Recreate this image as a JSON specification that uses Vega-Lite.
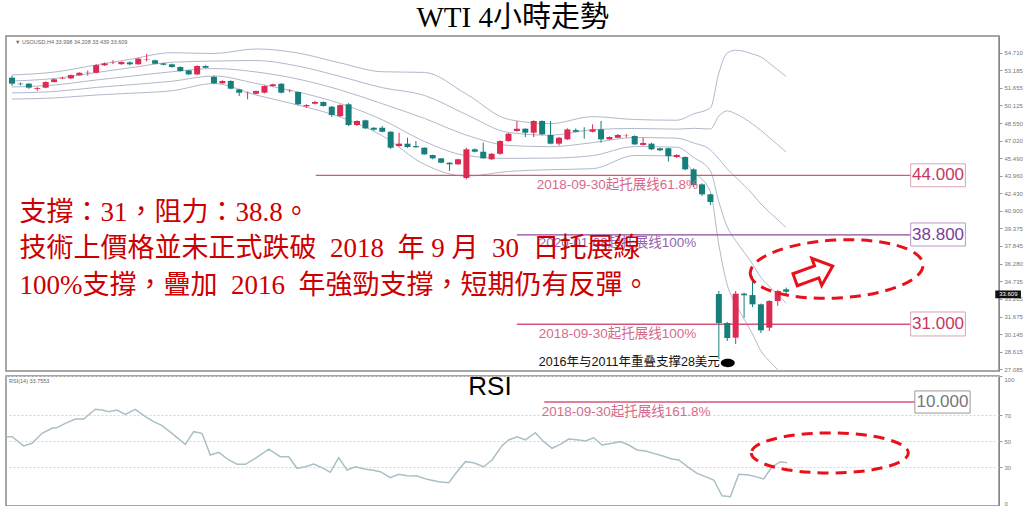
{
"$schema": "https://vega.github.io/schema/vega-lite/v6.json",
"padding": {"left": 2, "top": 4, "right": 0, "bottom": 0},
"title": {"text": "WTI 4小時走勢", "font": "Liberation Serif, Noto Sans CJK TC", "fontSize": 29, "fontWeight": "normal", "color": "#000", "anchor": "middle", "offset": 2},
"config": {
  "view": {"stroke": "#8a8a8a", "strokeWidth": 1.5},
  "axis": {"labelFont": "Liberation Sans", "labelFontSize": 6, "labelColor": "#777", "tickColor": "#999", "tickSize": 3, "domainColor": "#888", "labelPadding": 2, "labelOverlap": false},
  "text": {"font": "Liberation Sans, Noto Sans CJK SC"}
},
"datasets": {
  "candles": [
    {"i":0,"o":52.52,"h":52.7,"l":51.8,"c":52.0},{"i":1,"o":52.0,"h":52.1,"l":51.85,"c":51.95},{"i":2,"o":52.0,"h":52.05,"l":51.55,"c":51.65},{"i":3,"o":51.55,"h":51.7,"l":51.35,"c":51.62},{"i":4,"o":51.65,"h":52.2,"l":51.6,"c":52.14},
    {"i":5,"o":52.14,"h":52.45,"l":52.1,"c":52.38},{"i":6,"o":52.45,"h":52.6,"l":52.4,"c":52.5},{"i":7,"o":52.46,"h":52.8,"l":52.4,"c":52.75},{"i":8,"o":52.73,"h":53.0,"l":52.7,"c":52.95},{"i":9,"o":52.95,"h":53.15,"l":52.7,"c":52.97},
    {"i":10,"o":52.95,"h":53.7,"l":52.9,"c":53.62},{"i":11,"o":53.6,"h":53.85,"l":53.55,"c":53.77},{"i":12,"o":53.8,"h":54.05,"l":53.7,"c":53.82},{"i":13,"o":53.7,"h":53.95,"l":53.65,"c":53.89},{"i":14,"o":53.86,"h":53.95,"l":53.6,"c":53.69},
    {"i":15,"o":53.69,"h":54.25,"l":53.65,"c":54.18},{"i":16,"o":54.06,"h":54.6,"l":53.95,"c":54.1},{"i":17,"o":54.04,"h":54.1,"l":53.7,"c":53.74},{"i":18,"o":53.77,"h":53.8,"l":53.6,"c":53.65},{"i":19,"o":53.69,"h":53.75,"l":53.4,"c":53.45},
    {"i":20,"o":53.45,"h":53.5,"l":53.05,"c":53.1},{"i":21,"o":53.16,"h":53.2,"l":52.75,"c":52.81},{"i":22,"o":52.81,"h":53.6,"l":52.75,"c":53.54},{"i":23,"o":53.54,"h":53.6,"l":53.35,"c":53.39},{"i":24,"o":52.6,"h":52.7,"l":51.95,"c":52.03},
    {"i":25,"o":52.03,"h":52.3,"l":52.0,"c":52.23},{"i":26,"o":52.23,"h":52.3,"l":51.5,"c":51.56},{"i":27,"o":51.5,"h":51.55,"l":50.92,"c":51.21},{"i":28,"o":51.18,"h":51.3,"l":50.63,"c":51.2},{"i":29,"o":51.12,"h":51.4,"l":51.05,"c":51.36},
    {"i":30,"o":51.21,"h":51.85,"l":51.15,"c":51.79},{"i":31,"o":51.79,"h":52.0,"l":51.75,"c":51.94},{"i":32,"o":51.99,"h":52.05,"l":51.15,"c":51.21},{"i":33,"o":51.36,"h":51.5,"l":51.25,"c":51.38},{"i":34,"o":51.27,"h":51.3,"l":50.1,"c":50.2},
    {"i":35,"o":50.02,"h":50.2,"l":49.9,"c":50.13},{"i":36,"o":50.25,"h":50.5,"l":50.2,"c":50.4},{"i":37,"o":50.4,"h":50.45,"l":50.0,"c":50.05},{"i":38,"o":49.99,"h":50.05,"l":49.1,"c":49.26},{"i":39,"o":49.17,"h":50.2,"l":49.1,"c":50.13},
    {"i":40,"o":50.2,"h":50.3,"l":48.3,"c":48.39},{"i":41,"o":48.39,"h":48.8,"l":48.3,"c":48.74},{"i":42,"o":48.8,"h":48.85,"l":48.05,"c":48.1},{"i":43,"o":48.15,"h":48.2,"l":47.9,"c":47.98},{"i":44,"o":48.15,"h":48.3,"l":47.75,"c":47.8},
    {"i":45,"o":47.8,"h":47.85,"l":46.3,"c":46.41},{"i":46,"o":46.56,"h":47.72,"l":46.5,"c":46.76},{"i":47,"o":46.76,"h":47.28,"l":46.4,"c":46.47},{"i":48,"o":46.55,"h":46.99,"l":46.4,"c":46.45},{"i":49,"o":46.41,"h":46.45,"l":45.8,"c":45.83},
    {"i":50,"o":45.77,"h":45.8,"l":45.4,"c":45.48},{"i":51,"o":45.48,"h":45.5,"l":45.05,"c":45.1},{"i":52,"o":45.1,"h":45.15,"l":44.38,"c":44.96},{"i":53,"o":44.96,"h":45.45,"l":44.9,"c":45.4},{"i":54,"o":43.77,"h":46.4,"l":43.65,"c":46.27},
    {"i":55,"o":46.27,"h":46.35,"l":46.0,"c":46.06},{"i":56,"o":46.06,"h":46.85,"l":45.45,"c":45.48},{"i":57,"o":45.4,"h":45.95,"l":45.35,"c":45.88},{"i":58,"o":45.88,"h":47.05,"l":45.8,"c":46.99},{"i":59,"o":46.99,"h":47.7,"l":46.95,"c":47.63},
    {"i":60,"o":47.87,"h":48.74,"l":47.8,"c":48.07},{"i":61,"o":48.07,"h":48.1,"l":47.34,"c":47.72},{"i":62,"o":47.72,"h":48.8,"l":47.34,"c":48.74},{"i":63,"o":48.74,"h":48.8,"l":47.5,"c":47.58},{"i":64,"o":47.52,"h":48.74,"l":46.7,"c":46.76},
    {"i":65,"o":46.76,"h":47.35,"l":46.6,"c":47.28},{"i":66,"o":47.14,"h":48.1,"l":47.1,"c":48.01},{"i":67,"o":47.95,"h":48.1,"l":47.75,"c":47.8},{"i":68,"o":47.87,"h":48.2,"l":47.2,"c":47.86},{"i":69,"o":47.8,"h":48.45,"l":47.75,"c":48.01},
    {"i":70,"o":48.01,"h":48.74,"l":46.85,"c":47.14},{"i":71,"o":47.14,"h":47.4,"l":47.1,"c":47.34},{"i":72,"o":47.28,"h":47.6,"l":47.25,"c":47.52},{"i":73,"o":47.43,"h":47.6,"l":47.3,"c":47.45},{"i":74,"o":47.43,"h":47.5,"l":46.65,"c":46.7},
    {"i":75,"o":46.65,"h":47.28,"l":46.6,"c":46.82},{"i":76,"o":46.76,"h":46.85,"l":46.2,"c":46.27},{"i":77,"o":46.36,"h":46.4,"l":46.1,"c":46.18},{"i":78,"o":46.36,"h":46.4,"l":45.2,"c":45.68},{"i":79,"o":45.6,"h":45.85,"l":45.5,"c":45.77},
    {"i":80,"o":45.6,"h":45.65,"l":44.45,"c":44.52},{"i":81,"o":44.52,"h":44.6,"l":43.0,"c":43.15},{"i":82,"o":43.21,"h":43.3,"l":42.2,"c":42.34},{"i":83,"o":42.34,"h":42.4,"l":41.4,"c":41.67},{"i":84,"o":33.64,"h":33.9,"l":27.97,"c":31.11},
    {"i":85,"o":31.11,"h":31.2,"l":29.54,"c":29.8},{"i":86,"o":29.83,"h":33.9,"l":29.28,"c":33.67},{"i":87,"o":33.67,"h":33.75,"l":31.57,"c":33.53},{"i":88,"o":33.55,"h":35.2,"l":32.5,"c":32.74},{"i":89,"o":32.74,"h":32.8,"l":30.24,"c":30.47},
    {"i":90,"o":30.7,"h":33.1,"l":30.41,"c":33.03},{"i":91,"o":33.03,"h":34.0,"l":32.6,"c":33.9},{"i":92,"o":34.05,"h":34.2,"l":33.6,"c":33.84}
  ],
  "bands": [
    {"b":"U2","i":0,"v":52.76},{"b":"U2","i":5,"v":53.01},{"b":"U2","i":10,"v":53.63},{"b":"U2","i":14,"v":54.12},{"b":"U2","i":19,"v":54.7},{"b":"U2","i":24,"v":54.63},{"b":"U2","i":29,"v":55.03},{"b":"U2","i":34,"v":54.67},{"b":"U2","i":39,"v":53.81},{"b":"U2","i":44,"v":53.04},{"b":"U2","i":49,"v":52.98},{"b":"U2","i":54,"v":51.09},{"b":"U2","i":59,"v":48.88},{"b":"U2","i":64,"v":48.51},{"b":"U2","i":69,"v":49.12},{"b":"U2","i":74,"v":48.87},{"b":"U2","i":79,"v":48.81},{"b":"U2","i":81,"v":49.36},{"b":"U2","i":83,"v":49.88},{"b":"U2","i":84,"v":52.93},{"b":"U2","i":85,"v":54.68},{"b":"U2","i":86,"v":54.92},{"b":"U2","i":87,"v":54.82},{"b":"U2","i":88,"v":54.59},{"b":"U2","i":89,"v":54.33},{"b":"U2","i":90,"v":53.79},{"b":"U2","i":91,"v":53.21},{"b":"U2","i":92,"v":52.62},
    {"b":"U1","i":0,"v":52.23},{"b":"U1","i":5,"v":52.45},{"b":"U1","i":10,"v":52.97},{"b":"U1","i":14,"v":53.38},{"b":"U1","i":19,"v":53.87},{"b":"U1","i":24,"v":53.97},{"b":"U1","i":29,"v":54.02},{"b":"U1","i":34,"v":53.53},{"b":"U1","i":39,"v":52.63},{"b":"U1","i":44,"v":51.65},{"b":"U1","i":49,"v":50.98},{"b":"U1","i":54,"v":49.3},{"b":"U1","i":59,"v":47.74},{"b":"U1","i":64,"v":47.5},{"b":"U1","i":69,"v":47.98},{"b":"U1","i":74,"v":48.09},{"b":"U1","i":79,"v":48.03},{"b":"U1","i":81,"v":48.1},{"b":"U1","i":83,"v":48.04},{"b":"U1","i":84,"v":49.18},{"b":"U1","i":85,"v":49.62},{"b":"U1","i":86,"v":49.38},{"b":"U1","i":87,"v":48.98},{"b":"U1","i":88,"v":48.48},{"b":"U1","i":89,"v":47.92},{"b":"U1","i":90,"v":47.29},{"b":"U1","i":91,"v":46.67},{"b":"U1","i":92,"v":46.03},
    {"b":"M","i":0,"v":51.71},{"b":"M","i":5,"v":51.88},{"b":"M","i":10,"v":52.32},{"b":"M","i":14,"v":52.64},{"b":"M","i":19,"v":53.04},{"b":"M","i":24,"v":53.32},{"b":"M","i":29,"v":53.02},{"b":"M","i":34,"v":52.4},{"b":"M","i":39,"v":51.45},{"b":"M","i":44,"v":50.25},{"b":"M","i":49,"v":48.97},{"b":"M","i":54,"v":47.51},{"b":"M","i":59,"v":46.61},{"b":"M","i":64,"v":46.5},{"b":"M","i":69,"v":46.85},{"b":"M","i":74,"v":47.3},{"b":"M","i":79,"v":47.24},{"b":"M","i":81,"v":46.83},{"b":"M","i":83,"v":46.21},{"b":"M","i":84,"v":45.43},{"b":"M","i":85,"v":44.56},{"b":"M","i":86,"v":43.84},{"b":"M","i":87,"v":43.13},{"b":"M","i":88,"v":42.37},{"b":"M","i":89,"v":41.5},{"b":"M","i":90,"v":40.79},{"b":"M","i":91,"v":40.12},{"b":"M","i":92,"v":39.44},
    {"b":"L1","i":0,"v":51.19},{"b":"L1","i":5,"v":51.31},{"b":"L1","i":10,"v":51.67},{"b":"L1","i":14,"v":51.9},{"b":"L1","i":19,"v":52.21},{"b":"L1","i":24,"v":52.67},{"b":"L1","i":29,"v":52.02},{"b":"L1","i":34,"v":51.27},{"b":"L1","i":39,"v":50.27},{"b":"L1","i":44,"v":48.85},{"b":"L1","i":49,"v":46.96},{"b":"L1","i":54,"v":45.72},{"b":"L1","i":59,"v":45.48},{"b":"L1","i":64,"v":45.5},{"b":"L1","i":69,"v":45.72},{"b":"L1","i":74,"v":46.51},{"b":"L1","i":79,"v":46.45},{"b":"L1","i":81,"v":45.56},{"b":"L1","i":83,"v":44.38},{"b":"L1","i":84,"v":41.68},{"b":"L1","i":85,"v":39.5},{"b":"L1","i":86,"v":38.3},{"b":"L1","i":87,"v":37.29},{"b":"L1","i":88,"v":36.26},{"b":"L1","i":89,"v":35.09},{"b":"L1","i":90,"v":34.29},{"b":"L1","i":91,"v":33.58},{"b":"L1","i":92,"v":32.85},
    {"b":"L2","i":0,"v":50.66},{"b":"L2","i":5,"v":50.75},{"b":"L2","i":10,"v":51.01},{"b":"L2","i":14,"v":51.16},{"b":"L2","i":19,"v":51.38},{"b":"L2","i":24,"v":52.01},{"b":"L2","i":29,"v":51.01},{"b":"L2","i":34,"v":50.13},{"b":"L2","i":39,"v":49.09},{"b":"L2","i":44,"v":47.46},{"b":"L2","i":49,"v":44.96},{"b":"L2","i":54,"v":43.93},{"b":"L2","i":59,"v":44.34},{"b":"L2","i":64,"v":44.49},{"b":"L2","i":69,"v":44.58},{"b":"L2","i":74,"v":45.73},{"b":"L2","i":79,"v":45.67},{"b":"L2","i":81,"v":44.3},{"b":"L2","i":83,"v":42.55},{"b":"L2","i":84,"v":37.93},{"b":"L2","i":85,"v":34.44},{"b":"L2","i":86,"v":32.76},{"b":"L2","i":87,"v":31.44},{"b":"L2","i":88,"v":30.15},{"b":"L2","i":89,"v":28.67},{"b":"L2","i":90,"v":27.79},{"b":"L2","i":91,"v":27.03},{"b":"L2","i":92,"v":26.26}
  ],
  "rsi": [
    {"i":-0.12,"r":53.3},{"i":0.59,"r":53.3},{"i":1.96,"r":46.2},{"i":2.94,"r":48.2},{"i":4.12,"r":55.9},{"i":5.29,"r":59.8},{"i":5.88,"r":60.3},{"i":6.86,"r":63.6},{"i":8.04,"r":66.9},{"i":9.02,"r":66.9},{"i":10.39,"r":74.4},{"i":11.18,"r":73.8},{"i":11.96,"r":72.6},{"i":12.94,"r":73.8},{"i":13.92,"r":70.5},{"i":15.09,"r":74.4},{"i":16.27,"r":68.7},{"i":17.26,"r":64.9},{"i":18.24,"r":61.8},{"i":19.41,"r":55.9},{"i":20.98,"r":47.4},{"i":21.96,"r":57.2},{"i":22.94,"r":55.9},{"i":23.92,"r":39.2},{"i":24.91,"r":41.3},{"i":26.08,"r":35.4},{"i":27.06,"r":32.1},{"i":28.04,"r":32.1},{"i":29.21,"r":36.7},{"i":30.79,"r":43.8},{"i":32.15,"r":37.9},{"i":33.14,"r":37.9},{"i":34.12,"r":29.0},{"i":35.09,"r":30.2},{"i":36.08,"r":32.3},{"i":37.06,"r":29.5},{"i":38.04,"r":25.9},{"i":39.02,"r":37.2},{"i":40.0,"r":27.7},{"i":40.98,"r":30.2},{"i":42.15,"r":28.2},{"i":42.94,"r":27.7},{"i":43.92,"r":26.4},{"i":45.09,"r":21.8},{"i":46.08,"r":24.4},{"i":47.06,"r":23.3},{"i":48.24,"r":23.1},{"i":49.41,"r":20.5},{"i":50.79,"r":18.7},{"i":51.96,"r":17.9},{"i":52.94,"r":26.4},{"i":53.92,"r":34.1},{"i":54.9,"r":33.3},{"i":56.08,"r":30.2},{"i":57.06,"r":35.4},{"i":58.24,"r":46.4},{"i":59.02,"r":50.8},{"i":60.0,"r":53.3},{"i":60.98,"r":50.8},{"i":62.15,"r":56.4},{"i":63.14,"r":49.5},{"i":64.12,"r":44.4},{"i":65.09,"r":47.4},{"i":66.08,"r":51.5},{"i":67.26,"r":50.8},{"i":68.04,"r":50.0},{"i":69.02,"r":52.5},{"i":70.0,"r":46.9},{"i":71.18,"r":48.2},{"i":72.15,"r":49.5},{"i":73.14,"r":46.9},{"i":74.12,"r":43.1},{"i":75.09,"r":42.3},{"i":76.08,"r":40.5},{"i":77.06,"r":38.7},{"i":78.24,"r":36.2},{"i":79.02,"r":35.4},{"i":80.2,"r":29.5},{"i":81.18,"r":25.1},{"i":82.15,"r":22.6},{"i":83.14,"r":20.0},{"i":84.12,"r":7.9},{"i":85.09,"r":7.2},{"i":86.08,"r":24.4},{"i":87.26,"r":23.8},{"i":88.04,"r":22.6},{"i":89.02,"r":20.8},{"i":90.0,"r":30.2},{"i":90.98,"r":34.1},{"i":91.76,"r":33.3}
  ]
},
"spacing": 0,
"resolve": {"scale": {"x": "independent", "y": "independent"}},
"vconcat": [
  {
    "width": 993, "height": 335,
    "layer": [
      {"data": {"name": "bands"},
       "mark": {"type": "line", "color": "#b1b8cc", "strokeWidth": 1, "interpolate": "monotone", "clip": true},
       "encoding": {
         "x": {"field": "i", "type": "quantitative", "scale": {"domain": [-0.12, 116.7], "nice": false, "zero": false}, "axis": null},
         "y": {"field": "v", "type": "quantitative", "scale": {"domain": [26.92, 56.16], "nice": false, "zero": false},
               "axis": {"orient": "right", "title": null, "values": [27.085, 28.615, 30.145, 31.675, 33.205, 34.735, 36.28, 37.845, 39.375, 40.9, 42.43, 43.96, 45.49, 47.02, 48.55, 50.125, 51.655, 53.185, 54.71], "tickCount": 40, "format": ".3f", "grid": false, "labelOverlap": false}},
         "detail": {"field": "b", "type": "nominal"}}},
      {"data": {"values": [{"a": 36.1, "b": 106.8, "p": 44}, {"a": 60.0, "b": 106.8, "p": 31}]},
       "mark": {"type": "rule", "color": "#d9547a", "strokeWidth": 1.3},
       "encoding": {
         "x": {"field": "a", "type": "quantitative", "scale": {"domain": [-0.12, 116.7], "nice": false, "zero": false}, "axis": null},
         "x2": {"field": "b"},
         "y": {"field": "p", "type": "quantitative", "scale": {"domain": [26.92, 56.16], "nice": false, "zero": false}}}},
      {"data": {"values": [{"a": 60.0, "b": 106.8, "p": 38.8}]},
       "mark": {"type": "rule", "color": "#8a4a9a", "strokeWidth": 1.3},
       "encoding": {
         "x": {"field": "a", "type": "quantitative", "scale": {"domain": [-0.12, 116.7], "nice": false, "zero": false}, "axis": null},
         "x2": {"field": "b"},
         "y": {"field": "p", "type": "quantitative", "scale": {"domain": [26.92, 56.16], "nice": false, "zero": false}}}},
      {"data": {"name": "candles"},
       "mark": {"type": "rule", "strokeWidth": 1},
       "encoding": {
         "x": {"field": "i", "type": "quantitative", "scale": {"domain": [-0.12, 116.7], "nice": false, "zero": false}, "axis": null},
         "y": {"field": "l", "type": "quantitative", "scale": {"domain": [26.92, 56.16], "nice": false, "zero": false}},
         "y2": {"field": "h"},
         "color": {"condition": {"test": "datum.c >= datum.o", "value": "#dc2a52"}, "value": "#177f7b"}}},
      {"data": {"name": "candles"},
       "mark": {"type": "bar", "size": 6},
       "encoding": {
         "x": {"field": "i", "type": "quantitative", "scale": {"domain": [-0.12, 116.7], "nice": false, "zero": false}, "axis": null},
         "y": {"field": "o", "type": "quantitative", "scale": {"domain": [26.92, 56.16], "nice": false, "zero": false}},
         "y2": {"field": "c"},
         "color": {"condition": {"test": "datum.c >= datum.o", "value": "#dc2a52"}, "value": "#177f7b"}}},
      {"data": {"values": [{"x": 62.35, "p": 43.15, "t": "2018-09-30起托展线61.8%"}, {"x": 62.6, "p": 30.15, "t": "2018-09-30起托展线100%"}]},
       "mark": {"type": "text", "align": "left", "baseline": "middle", "fontSize": 13.5, "color": "#d66a8c", "font": "Liberation Sans, Noto Sans CJK SC"},
       "encoding": {
         "x": {"field": "x", "type": "quantitative", "scale": {"domain": [-0.12, 116.7], "nice": false, "zero": false}, "axis": null},
         "y": {"field": "p", "type": "quantitative", "scale": {"domain": [26.92, 56.16], "nice": false, "zero": false}},
         "text": {"field": "t"}}},
      {"data": {"values": [{"x": 62.6, "p": 38.09, "t": "2020-01-08起托展线100%"}]},
       "mark": {"type": "text", "align": "left", "baseline": "middle", "fontSize": 13.5, "color": "#9464b0", "font": "Liberation Sans, Noto Sans CJK SC"},
       "encoding": {
         "x": {"field": "x", "type": "quantitative", "scale": {"domain": [-0.12, 116.7], "nice": false, "zero": false}, "axis": null},
         "y": {"field": "p", "type": "quantitative", "scale": {"domain": [26.92, 56.16], "nice": false, "zero": false}},
         "text": {"field": "t"}}},
      {"data": {"values": [{"a": 106.8, "b": 113.3, "p1": 45.0, "p2": 43.0}, {"a": 106.8, "b": 113.3, "p1": 32.07, "p2": 29.98}]},
       "mark": {"type": "rect", "fill": "#ffffff", "stroke": "#dca2b6", "strokeWidth": 1},
       "encoding": {
         "x": {"field": "a", "type": "quantitative", "scale": {"domain": [-0.12, 116.7], "nice": false, "zero": false}, "axis": null},
         "x2": {"field": "b"},
         "y": {"field": "p1", "type": "quantitative", "scale": {"domain": [26.92, 56.16], "nice": false, "zero": false}},
         "y2": {"field": "p2"}}},
      {"data": {"values": [{"a": 106.8, "b": 113.3, "p1": 39.84, "p2": 37.83}]},
       "mark": {"type": "rect", "fill": "#ffffff", "stroke": "#b996cc", "strokeWidth": 1},
       "encoding": {
         "x": {"field": "a", "type": "quantitative", "scale": {"domain": [-0.12, 116.7], "nice": false, "zero": false}, "axis": null},
         "x2": {"field": "b"},
         "y": {"field": "p1", "type": "quantitative", "scale": {"domain": [26.92, 56.16], "nice": false, "zero": false}},
         "y2": {"field": "p2"}}},
      {"data": {"values": [{"x": 110.05, "p": 44, "t": "44.000"}, {"x": 110.05, "p": 31, "t": "31.000"}]},
       "mark": {"type": "text", "align": "center", "baseline": "middle", "fontSize": 17, "color": "#c8365f", "font": "Liberation Sans"},
       "encoding": {
         "x": {"field": "x", "type": "quantitative", "scale": {"domain": [-0.12, 116.7], "nice": false, "zero": false}, "axis": null},
         "y": {"field": "p", "type": "quantitative", "scale": {"domain": [26.92, 56.16], "nice": false, "zero": false}},
         "text": {"field": "t"}}},
      {"data": {"values": [{"x": 110.05, "p": 38.8, "t": "38.800"}]},
       "mark": {"type": "text", "align": "center", "baseline": "middle", "fontSize": 17, "color": "#7b3f9a", "font": "Liberation Sans"},
       "encoding": {
         "x": {"field": "x", "type": "quantitative", "scale": {"domain": [-0.12, 116.7], "nice": false, "zero": false}, "axis": null},
         "y": {"field": "p", "type": "quantitative", "scale": {"domain": [26.92, 56.16], "nice": false, "zero": false}},
         "text": {"field": "t"}}},
      {"data": {"values": [{"x": 0.9, "p": 40.71, "t": "支撐：31，阻力：38.8。"}, {"x": 0.9, "p": 37.6, "t": "技術上價格並未正式跌破\u20022018\u2002年 9 月\u200230\u2002日托展線"}, {"x": 0.9, "p": 34.3, "t": "100%支撐，疊加\u20022016\u2002年強勁支撐，短期仍有反彈。"}]},
       "mark": {"type": "text", "align": "left", "baseline": "middle", "fontSize": 27, "color": "#cc0000", "font": "Liberation Serif, Noto Sans CJK TC"},
       "encoding": {
         "x": {"field": "x", "type": "quantitative", "scale": {"domain": [-0.12, 116.7], "nice": false, "zero": false}, "axis": null},
         "y": {"field": "p", "type": "quantitative", "scale": {"domain": [26.92, 56.16], "nice": false, "zero": false}},
         "text": {"field": "t"}}},
      {"data": {"values": [{"x": 62.6, "p": 27.71, "t": "2016年与2011年重叠支撑28美元"}]},
       "mark": {"type": "text", "align": "left", "baseline": "middle", "fontSize": 12.5, "color": "#111111", "font": "Liberation Sans, Noto Sans CJK SC"},
       "encoding": {
         "x": {"field": "x", "type": "quantitative", "scale": {"domain": [-0.12, 116.7], "nice": false, "zero": false}, "axis": null},
         "y": {"field": "p", "type": "quantitative", "scale": {"domain": [26.92, 56.16], "nice": false, "zero": false}},
         "text": {"field": "t"}}},
      {"data": {"values": [{"x": 85.06, "p": 27.62}]},
       "mark": {"type": "point", "shape": "M -1 0 A 1 0.6 0 1 0 1 0 A 1 0.6 0 1 0 -1 0 Z", "size": 196, "filled": true, "color": "#000000", "opacity": 1},
       "encoding": {
         "x": {"field": "x", "type": "quantitative", "scale": {"domain": [-0.12, 116.7], "nice": false, "zero": false}, "axis": null},
         "y": {"field": "p", "type": "quantitative", "scale": {"domain": [26.92, 56.16], "nice": false, "zero": false}}}},
      {"data": {"values": [{"x": 98.0, "p": 35.82}]},
       "mark": {"type": "point", "shape": "M -1 0 A 1 0.335 0 1 0 1 0 A 1 0.335 0 1 0 -1 0 Z", "size": 29929, "filled": false, "stroke": "#e8101a", "strokeWidth": 3, "strokeDash": [11, 7], "angle": -3, "opacity": 1},
       "encoding": {
         "x": {"field": "x", "type": "quantitative", "scale": {"domain": [-0.12, 116.7], "nice": false, "zero": false}, "axis": null},
         "y": {"field": "p", "type": "quantitative", "scale": {"domain": [26.92, 56.16], "nice": false, "zero": false}}}},
      {"data": {"values": [{"x": 95.3, "p": 35.48}]},
       "mark": {"type": "point", "shape": "M -1 -0.32 L 0.15 -0.32 L 0.15 -0.72 L 1 0 L 0.15 0.72 L 0.15 0.32 L -1 0.32 Z", "size": 1600, "filled": true, "fill": "#ffffff", "stroke": "#e8101a", "strokeWidth": 3, "angle": -20, "opacity": 1},
       "encoding": {
         "x": {"field": "x", "type": "quantitative", "scale": {"domain": [-0.12, 116.7], "nice": false, "zero": false}, "axis": null},
         "y": {"field": "p", "type": "quantitative", "scale": {"domain": [26.92, 56.16], "nice": false, "zero": false}}}},
      {"data": {"values": [{"x": 0.35, "p": 55.63, "t": "▼ USOUSD,H4  33.998 34.208 33.439 33.609"}]},
       "mark": {"type": "text", "align": "left", "baseline": "middle", "fontSize": 5.5, "color": "#666666", "font": "Liberation Sans"},
       "encoding": {
         "x": {"field": "x", "type": "quantitative", "scale": {"domain": [-0.12, 116.7], "nice": false, "zero": false}, "axis": null},
         "y": {"field": "p", "type": "quantitative", "scale": {"domain": [26.92, 56.16], "nice": false, "zero": false}},
         "text": {"field": "t"}}},
      {"data": {"values": [{"a": 116.85, "b": 119.9, "p1": 33.95, "p2": 33.27}]},
       "mark": {"type": "rect", "fill": "#111111"},
       "encoding": {
         "x": {"field": "a", "type": "quantitative", "scale": {"domain": [-0.12, 116.7], "nice": false, "zero": false}, "axis": null},
         "x2": {"field": "b"},
         "y": {"field": "p1", "type": "quantitative", "scale": {"domain": [26.92, 56.16], "nice": false, "zero": false}},
         "y2": {"field": "p2"}}},
      {"data": {"values": [{"x": 118.4, "p": 33.61, "t": "33.609"}]},
       "mark": {"type": "text", "align": "center", "baseline": "middle", "fontSize": 6, "color": "#ffffff", "font": "Liberation Sans"},
       "encoding": {
         "x": {"field": "x", "type": "quantitative", "scale": {"domain": [-0.12, 116.7], "nice": false, "zero": false}, "axis": null},
         "y": {"field": "p", "type": "quantitative", "scale": {"domain": [26.92, 56.16], "nice": false, "zero": false}},
         "text": {"field": "t"}}}
    ]
  },
  {
    "width": 993, "height": 130,
    "layer": [
      {"data": {"name": "rsi"},
       "mark": {"type": "line", "color": "#a9bfc6", "strokeWidth": 1.5},
       "encoding": {
         "x": {"field": "i", "type": "quantitative", "scale": {"domain": [-0.12, 116.7], "nice": false, "zero": false}, "axis": null},
         "y": {"field": "r", "type": "quantitative", "scale": {"domain": [0, 100], "nice": false, "zero": false},
               "axis": {"orient": "right", "title": null, "values": [0, 30, 50, 70, 100], "tickCount": 20, "format": "d", "grid": true, "gridColor": "#d6d6d6", "gridDash": [2, 2], "labelFlush": true, "labelOverlap": false}}}},
      {"data": {"values": [{"a": 63.2, "b": 106.8, "r": 80}]},
       "mark": {"type": "rule", "color": "#d9547a", "strokeWidth": 1.3},
       "encoding": {
         "x": {"field": "a", "type": "quantitative", "scale": {"domain": [-0.12, 116.7], "nice": false, "zero": false}, "axis": null},
         "x2": {"field": "b"},
         "y": {"field": "r", "type": "quantitative", "scale": {"domain": [0, 100], "nice": false, "zero": false}}}},
      {"data": {"values": [{"x": 62.9, "r": 72.3, "t": "2018-09-30起托展线161.8%"}]},
       "mark": {"type": "text", "align": "left", "baseline": "middle", "fontSize": 13.5, "color": "#d66a8c", "font": "Liberation Sans, Noto Sans CJK SC"},
       "encoding": {
         "x": {"field": "x", "type": "quantitative", "scale": {"domain": [-0.12, 116.7], "nice": false, "zero": false}, "axis": null},
         "y": {"field": "r", "type": "quantitative", "scale": {"domain": [0, 100], "nice": false, "zero": false}},
         "text": {"field": "t"}}},
      {"data": {"values": [{"a": 106.8, "b": 113.3, "r1": 88.5, "r2": 71.5}]},
       "mark": {"type": "rect", "fill": "#ffffff", "stroke": "#999999", "strokeWidth": 1},
       "encoding": {
         "x": {"field": "a", "type": "quantitative", "scale": {"domain": [-0.12, 116.7], "nice": false, "zero": false}, "axis": null},
         "x2": {"field": "b"},
         "y": {"field": "r1", "type": "quantitative", "scale": {"domain": [0, 100], "nice": false, "zero": false}},
         "y2": {"field": "r2"}}},
      {"data": {"values": [{"x": 110.05, "r": 80, "t": "10.000"}]},
       "mark": {"type": "text", "align": "center", "baseline": "middle", "fontSize": 17, "color": "#777777", "font": "Liberation Sans"},
       "encoding": {
         "x": {"field": "x", "type": "quantitative", "scale": {"domain": [-0.12, 116.7], "nice": false, "zero": false}, "axis": null},
         "y": {"field": "r", "type": "quantitative", "scale": {"domain": [0, 100], "nice": false, "zero": false}},
         "text": {"field": "t"}}},
      {"data": {"values": [{"x": 56.82, "r": 91.5, "t": "RSI"}]},
       "mark": {"type": "text", "align": "center", "baseline": "middle", "fontSize": 26, "color": "#000000", "font": "Liberation Sans"},
       "encoding": {
         "x": {"field": "x", "type": "quantitative", "scale": {"domain": [-0.12, 116.7], "nice": false, "zero": false}, "axis": null},
         "y": {"field": "r", "type": "quantitative", "scale": {"domain": [0, 100], "nice": false, "zero": false}},
         "text": {"field": "t"}}},
      {"data": {"values": [{"x": 0.24, "r": 96.2, "t": "RSI(14) 33.7553"}]},
       "mark": {"type": "text", "align": "left", "baseline": "middle", "fontSize": 5.5, "color": "#666666", "font": "Liberation Sans"},
       "encoding": {
         "x": {"field": "x", "type": "quantitative", "scale": {"domain": [-0.12, 116.7], "nice": false, "zero": false}, "axis": null},
         "y": {"field": "r", "type": "quantitative", "scale": {"domain": [0, 100], "nice": false, "zero": false}},
         "text": {"field": "t"}}},
      {"data": {"values": [{"x": 96.8, "r": 40.8}]},
       "mark": {"type": "point", "shape": "M -1 0 A 1 0.255 0 1 0 1 0 A 1 0.255 0 1 0 -1 0 Z", "size": 24649, "filled": false, "stroke": "#e8101a", "strokeWidth": 3, "strokeDash": [11, 7], "opacity": 1},
       "encoding": {
         "x": {"field": "x", "type": "quantitative", "scale": {"domain": [-0.12, 116.7], "nice": false, "zero": false}, "axis": null},
         "y": {"field": "r", "type": "quantitative", "scale": {"domain": [0, 100], "nice": false, "zero": false}}}}
    ]
  }
]
}
